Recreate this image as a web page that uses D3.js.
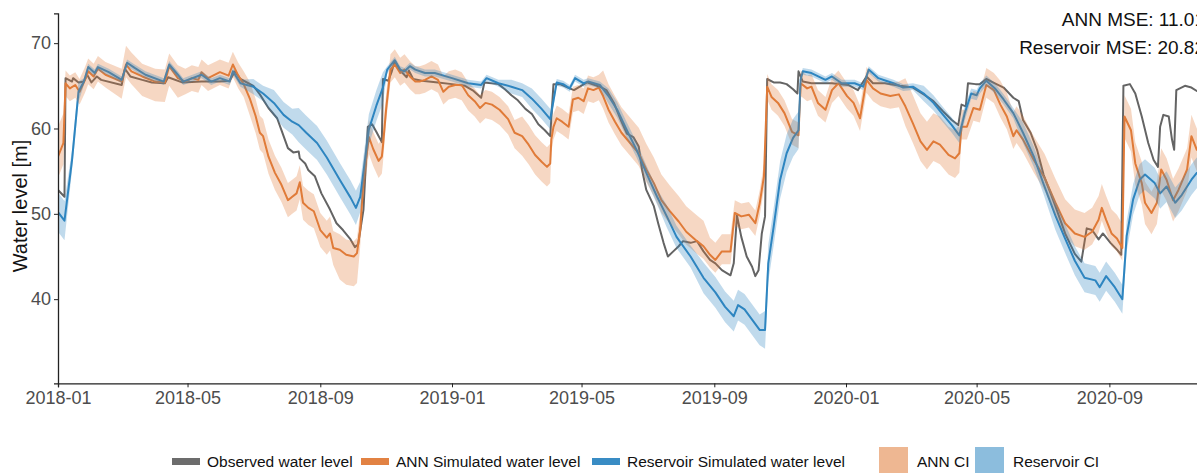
<!DOCTYPE html>
<html>
<head>
<meta charset="utf-8">
<script src="https://cdn.jsdelivr.net/npm/d3@7"></script>
<style>
  html, body { margin: 0; padding: 0; background: #fff; }
  svg { display: block; font-family: "Liberation Sans", Arial, sans-serif; }
</style>
</head>
<body>
<svg id="chart" width="1197" height="473"></svg>
<script>
// Observed water level [date, m]
const observed = [
  ["2018-01-01",52.8],["2018-01-07",52.0],["2018-01-08",65.9],["2018-01-14",65.5],["2018-01-15",65.9],
  ["2018-01-20",65.4],["2018-01-25",65.5],["2018-01-28",66.3],["2018-02-01",65.4],["2018-02-06",66.1],
  ["2018-02-10",65.7],["2018-03-01",65.1],["2018-03-04",67.0],["2018-03-09",66.1],["2018-03-20",65.7],
  ["2018-03-29",65.4],["2018-04-10",65.3],["2018-04-13",66.0],["2018-04-26",65.4],["2018-05-14",65.5],
  ["2018-05-31",65.5],["2018-06-09",65.6],["2018-06-14",66.7],["2018-06-19",65.8],["2018-07-01",65.0],
  ["2018-07-07",64.0],["2018-07-15",62.4],["2018-07-23",61.2],["2018-07-27",59.8],["2018-08-02",57.7],
  ["2018-08-07",57.2],["2018-08-12",57.3],["2018-08-13",56.5],["2018-08-18",55.9],["2018-08-21",55.1],
  ["2018-08-27",54.4],["2018-09-02",52.4],["2018-09-10",50.5],["2018-09-16",48.9],["2018-09-22",48.1],
  ["2018-09-29",47.0],["2018-10-03",46.1],["2018-10-06",46.4],["2018-10-11",50.5],["2018-10-15",60.2],
  ["2018-10-19",60.5],["2018-10-23",59.6],["2018-10-28",58.4],["2018-10-29",65.8],["2018-11-03",65.6],
  ["2018-11-06",66.6],["2018-11-09",67.9],["2018-11-14",66.8],["2018-11-20",66.0],["2018-11-22",66.8],
  ["2018-11-26",65.8],["2018-12-04",65.6],["2018-12-19",65.4],["2019-01-01",65.2],["2019-01-13",65.0],
  ["2019-01-21",64.4],["2019-01-28",63.6],["2019-01-31",65.4],["2019-02-13",65.2],["2019-02-19",64.6],
  ["2019-02-25",63.9],["2019-03-03",63.3],["2019-03-10",62.3],["2019-03-16",61.7],["2019-03-22",60.5],
  ["2019-03-28",59.8],["2019-04-02",59.1],["2019-04-05",65.2],["2019-04-11",65.2],["2019-04-20",64.7],
  ["2019-04-24",64.5],["2019-05-06",65.4],["2019-05-18",64.9],["2019-05-24",64.5],["2019-05-31",63.0],
  ["2019-06-07",60.8],["2019-06-12",59.4],["2019-06-18",59.0],["2019-06-23",57.9],["2019-06-26",55.2],
  ["2019-06-30",52.8],["2019-07-07",50.9],["2019-07-11",48.9],["2019-07-16",46.6],["2019-07-20",45.0],
  ["2019-07-25",45.6],["2019-07-30",46.2],["2019-08-03",46.8],["2019-08-10",46.6],["2019-08-16",46.8],
  ["2019-08-22",45.6],["2019-08-28",44.6],["2019-09-02",44.2],["2019-09-08",43.4],["2019-09-16",42.8],
  ["2019-09-19",44.2],["2019-09-22",49.8],["2019-09-26",47.3],["2019-10-01",45.0],["2019-10-06",43.8],
  ["2019-10-09",42.7],["2019-10-12",43.4],["2019-10-15",47.7],["2019-10-18",49.7],["2019-10-20",65.8],
  ["2019-10-26",65.4],["2019-11-01",65.4],["2019-11-07",65.2],["2019-11-13",64.6],["2019-11-17",64.1],
  ["2019-11-18",66.7],["2019-11-22",65.5],["2019-11-30",65.3],["2019-12-19",65.3],["2020-01-03",65.1],
  ["2020-01-12",64.5],["2020-01-20",66.1],["2020-01-26",65.3],["2020-02-06",65.3],["2020-02-20",65.0],
  ["2020-03-03",64.8],["2020-03-13",64.0],["2020-03-22",63.2],["2020-03-31",62.0],["2020-04-08",61.0],
  ["2020-04-14",60.4],["2020-04-17",62.8],["2020-04-21",62.6],["2020-04-23",65.3],["2020-04-30",65.2],
  ["2020-05-04",65.2],["2020-05-10",65.8],["2020-05-18",65.3],["2020-05-26",64.8],["2020-06-04",63.6],
  ["2020-06-09",63.2],["2020-06-13",61.0],["2020-06-20",59.5],["2020-06-26",57.5],["2020-07-02",54.6],
  ["2020-07-08",52.6],["2020-07-13",50.9],["2020-07-22",47.7],["2020-07-31",45.3],["2020-08-06",44.4],
  ["2020-08-11",48.3],["2020-08-16",48.1],["2020-08-22",47.0],["2020-08-26",47.7],["2020-09-02",46.6],
  ["2020-09-08",45.8],["2020-09-12",45.2],["2020-09-14",65.0],["2020-09-20",65.2],["2020-09-25",64.1],
  ["2020-10-01",61.4],["2020-10-07",58.3],["2020-10-12",56.3],["2020-10-16",55.5],["2020-10-18",60.2],
  ["2020-10-21",61.6],["2020-10-26",61.4],["2020-10-29",58.7],["2020-10-31",57.5],["2020-11-02",64.5],
  ["2020-11-10",65.0],["2020-11-16",64.8],["2020-11-21",64.4],["2020-11-28",64.2]
];

// ANN simulated water level [date, m]
const annSimulated = [
  ["2018-01-01",56.7],["2018-01-06",58.3],["2018-01-08",65.3],["2018-01-12",64.7],["2018-01-17",65.1],
  ["2018-01-21",64.3],["2018-01-26",65.7],["2018-01-29",66.7],["2018-02-03",66.1],["2018-02-07",67.0],
  ["2018-02-14",66.3],["2018-03-01",65.5],["2018-03-05",67.5],["2018-03-10",66.7],["2018-03-20",66.1],
  ["2018-04-01",65.5],["2018-04-10",65.4],["2018-04-14",67.3],["2018-04-22",65.9],["2018-04-29",65.5],
  ["2018-05-05",65.9],["2018-05-11",65.7],["2018-05-14",66.6],["2018-05-20",65.9],["2018-05-31",66.6],
  ["2018-06-08",66.2],["2018-06-12",67.5],["2018-06-17",66.2],["2018-06-22",65.2],["2018-06-28",63.4],
  ["2018-07-03",61.5],["2018-07-07",59.5],["2018-07-10",59.1],["2018-07-15",56.7],["2018-07-21",54.8],
  ["2018-07-27",53.4],["2018-08-02",51.6],["2018-08-06",52.0],["2018-08-10",52.4],["2018-08-13",53.7],
  ["2018-08-16",51.3],["2018-08-21",50.7],["2018-08-26",50.3],["2018-09-01",48.1],["2018-09-07",47.2],
  ["2018-09-10",47.7],["2018-09-13",46.0],["2018-09-19",45.8],["2018-09-25",45.2],["2018-10-02",45.0],
  ["2018-10-05",45.4],["2018-10-08",48.2],["2018-10-11",54.0],["2018-10-16",59.0],["2018-10-20",57.6],
  ["2018-10-25",56.2],["2018-10-28",56.7],["2018-10-29",57.9],["2018-11-01",62.3],["2018-11-05",66.9],
  ["2018-11-09",67.5],["2018-11-14",66.5],["2018-11-18",66.9],["2018-11-23",66.1],["2018-11-28",65.5],
  ["2018-12-02",65.5],["2018-12-07",65.7],["2018-12-13",66.1],["2018-12-19",65.7],["2018-12-24",64.3],
  ["2018-12-29",64.9],["2019-01-04",65.1],["2019-01-10",65.1],["2019-01-16",63.9],["2019-01-22",63.2],
  ["2019-01-27",62.4],["2019-02-01",63.0],["2019-02-07",62.8],["2019-02-14",62.2],["2019-02-22",61.1],
  ["2019-02-28",59.5],["2019-03-07",59.1],["2019-03-13",58.1],["2019-03-19",56.9],["2019-03-25",56.1],
  ["2019-03-30",55.5],["2019-04-02",55.9],["2019-04-03",58.7],["2019-04-05",60.2],["2019-04-08",61.2],
  ["2019-04-13",60.8],["2019-04-19",60.2],["2019-04-23",63.4],["2019-04-28",63.6],["2019-05-03",63.2],
  ["2019-05-07",64.7],["2019-05-12",64.5],["2019-05-17",64.8],["2019-05-21",63.8],["2019-05-26",62.2],
  ["2019-06-01",60.8],["2019-06-07",59.5],["2019-06-15",58.3],["2019-06-23",57.1],["2019-06-30",55.2],
  ["2019-07-07",53.6],["2019-07-14",51.6],["2019-07-22",50.3],["2019-07-30",49.1],["2019-08-06",47.9],
  ["2019-08-16",46.8],["2019-08-22",46.2],["2019-08-28",45.2],["2019-09-02",44.6],["2019-09-08",45.6],
  ["2019-09-16",45.6],["2019-09-20",50.1],["2019-09-26",49.7],["2019-10-03",49.9],["2019-10-09",48.9],
  ["2019-10-13",51.2],["2019-10-17",54.4],["2019-10-20",64.9],["2019-10-24",63.7],["2019-10-30",63.0],
  ["2019-11-05",61.8],["2019-11-12",59.6],["2019-11-18",59.2],["2019-11-20",65.3],["2019-11-26",64.7],
  ["2019-11-30",64.9],["2019-12-06",63.0],["2019-12-13",62.2],["2019-12-19",64.5],["2019-12-25",65.3],
  ["2020-01-02",63.8],["2020-01-08",63.0],["2020-01-14",61.2],["2020-01-20",65.7],["2020-01-26",64.7],
  ["2020-02-02",64.1],["2020-02-11",63.8],["2020-02-19",64.0],["2020-02-25",62.6],["2020-03-03",60.6],
  ["2020-03-10",58.5],["2020-03-16",57.5],["2020-03-22",58.5],["2020-03-28",58.1],["2020-04-05",56.9],
  ["2020-04-11",56.5],["2020-04-15",57.1],["2020-04-17",60.2],["2020-04-22",60.2],["2020-04-28",62.4],
  ["2020-05-04",62.2],["2020-05-10",65.1],["2020-05-17",64.5],["2020-05-23",62.8],["2020-05-29",61.4],
  ["2020-06-04",59.1],["2020-06-07",59.8],["2020-06-13",58.7],["2020-06-23",56.3],["2020-07-03",54.2],
  ["2020-07-13",51.3],["2020-07-22",48.9],["2020-07-31",47.7],["2020-08-09",47.3],["2020-08-16",47.9],
  ["2020-08-22",49.3],["2020-08-25",50.7],["2020-08-29",49.3],["2020-09-03",47.7],["2020-09-08",47.1],
  ["2020-09-13",46.0],["2020-09-15",61.4],["2020-09-21",59.8],["2020-09-25",55.9],["2020-10-01",53.6],
  ["2020-10-04",51.3],["2020-10-10",50.1],["2020-10-15",51.3],["2020-10-19",55.2],["2020-10-24",54.0],
  ["2020-10-30",51.6],["2020-11-04",52.8],["2020-11-12",55.2],["2020-11-16",59.1],["2020-11-21",57.5],
  ["2020-11-28",58.0]
];

// Reservoir model simulated water level [date, m]
const reservoirSimulated = [
  ["2018-01-01",50.2],["2018-01-07",49.2],["2018-01-14",56.3],["2018-01-20",64.3],["2018-01-25",65.5],
  ["2018-01-29",67.2],["2018-02-04",66.5],["2018-02-07",67.2],["2018-02-17",66.6],["2018-03-01",65.7],
  ["2018-03-06",67.7],["2018-03-13",67.1],["2018-03-23",66.3],["2018-04-09",65.5],["2018-04-14",67.5],
  ["2018-04-22",66.3],["2018-04-27",65.5],["2018-05-14",66.3],["2018-05-23",65.5],["2018-05-31",65.9],
  ["2018-06-09",65.5],["2018-06-12",66.7],["2018-06-19",65.3],["2018-07-01",64.9],["2018-07-10",64.1],
  ["2018-07-20",63.0],["2018-07-29",61.6],["2018-08-06",60.8],["2018-08-12",60.4],["2018-08-19",59.5],
  ["2018-08-29",58.3],["2018-09-07",56.6],["2018-09-19",54.0],["2018-09-29",51.9],["2018-10-04",50.7],
  ["2018-10-08",52.0],["2018-10-16",59.9],["2018-10-23",62.7],["2018-10-29",64.8],["2018-11-02",66.9],
  ["2018-11-09",68.0],["2018-11-14",66.9],["2018-11-18",66.7],["2018-11-23",67.3],["2018-11-28",66.9],
  ["2018-12-07",66.5],["2018-12-16",66.5],["2019-01-01",65.9],["2019-01-16",65.3],["2019-01-28",65.1],
  ["2019-02-02",65.9],["2019-02-13",65.3],["2019-02-25",64.9],["2019-03-07",64.5],["2019-03-16",63.5],
  ["2019-03-25",62.3],["2019-04-02",61.1],["2019-04-08",65.4],["2019-04-14",65.2],["2019-04-20",64.7],
  ["2019-04-25",65.9],["2019-05-03",65.3],["2019-05-07",65.5],["2019-05-18",65.1],["2019-05-26",63.8],
  ["2019-06-03",62.2],["2019-06-12",59.8],["2019-06-21",57.5],["2019-06-30",54.8],["2019-07-10",52.0],
  ["2019-07-19",49.7],["2019-07-28",47.3],["2019-08-10",45.0],["2019-08-22",42.5],["2019-09-02",40.8],
  ["2019-09-11",39.1],["2019-09-19",38.0],["2019-09-23",39.3],["2019-09-29",38.8],["2019-10-06",37.6],
  ["2019-10-13",36.4],["2019-10-18",36.4],["2019-10-21",44.2],["2019-10-26",48.5],["2019-11-01",54.0],
  ["2019-11-07",57.1],["2019-11-13",58.9],["2019-11-18",59.8],["2019-11-20",65.7],["2019-11-22",66.7],
  ["2019-11-30",66.5],["2019-12-13",65.7],["2019-12-19",66.1],["2019-12-28",65.3],["2020-01-09",65.3],
  ["2020-01-17",64.9],["2020-01-22",66.9],["2020-01-31",65.9],["2020-02-07",65.6],["2020-02-14",65.3],
  ["2020-02-23",64.8],["2020-03-03",64.9],["2020-03-13",64.1],["2020-03-22",63.0],["2020-03-31",61.6],
  ["2020-04-08",60.4],["2020-04-15",59.2],["2020-04-20",61.8],["2020-04-26",64.1],["2020-05-01",63.9],
  ["2020-05-04",64.7],["2020-05-10",65.6],["2020-05-18",64.7],["2020-05-26",63.4],["2020-06-04",61.8],
  ["2020-06-13",59.5],["2020-06-23",56.7],["2020-07-02",53.5],["2020-07-13",49.8],["2020-07-22",47.1],
  ["2020-07-31",44.5],["2020-08-09",42.5],["2020-08-19",42.2],["2020-08-23",41.4],["2020-08-29",42.7],
  ["2020-09-06",41.4],["2020-09-13",40.0],["2020-09-17",47.4],["2020-09-23",51.7],["2020-09-29",54.0],
  ["2020-10-04",54.6],["2020-10-13",53.6],["2020-10-18",52.4],["2020-10-24",53.2],["2020-11-01",51.3],
  ["2020-11-07",52.2],["2020-11-16",54.0],["2020-11-21",54.8],["2020-11-28",55.2]
];

// Confidence interval extents below/above each simulation, by period [from date, below, above]
const annCI = [
  ["2018-01-01",2.5,3.5],["2018-01-08",1.5,1.5],["2018-02-25",2.0,1.5],["2018-03-04",1.5,2.2],
  ["2018-03-15",2.3,1.5],["2018-04-25",1.5,1.5],["2018-06-25",2.0,2.0],["2018-09-15",3.5,1.8],
  ["2018-10-08",2.0,2.0],["2018-11-01",1.5,1.8],["2019-01-10",1.8,1.5],["2019-03-01",2.3,2.3],
  ["2019-04-03",1.5,1.5],["2019-05-20",1.5,3.0],["2019-08-25",1.5,2.0],["2019-09-20",1.5,1.5],
  ["2020-02-25",2.3,3.3],["2020-04-17",1.5,2.0],["2020-05-20",1.5,2.8],["2020-09-14",2.5,2.5]
];
const reservoirCI = [
  ["2018-01-01",2.3,2.3],["2018-01-14",1.2,1.2],["2018-01-25",0.4,0.4],["2018-06-25",0.9,0.9],
  ["2018-07-20",1.5,1.5],["2018-08-10",2.0,2.0],["2018-10-08",1.8,1.8],["2018-11-02",0.4,0.4],
  ["2019-02-20",0.8,0.8],["2019-03-15",1.2,1.2],["2019-04-08",0.4,0.4],["2019-05-25",0.9,0.9],
  ["2019-07-15",1.3,1.3],["2019-08-20",1.8,1.8],["2019-10-18",2.2,2.2],["2019-11-20",0.4,0.4],
  ["2020-03-10",0.9,0.9],["2020-04-23",0.6,0.6],["2020-06-10",1.2,1.2],["2020-07-10",1.7,1.7],
  ["2020-09-17",1.8,1.8]
];

const yTicks = [40, 50, 60, 70];
const mseLabels = ["ANN MSE: 11.01", "Reservoir MSE: 20.82"];

const colors = { observed: "#646464", ann: "#E07B39", res: "#2E86C1" };
const FONT = "Liberation Sans, Arial, sans-serif";

const parse = d3.timeParse("%Y-%m-%d");
const svg = d3.select("#chart");

const x = d3.scaleTime()
  .domain([parse("2018-01-01"), parse("2020-12-31")])
  .range([58, 1240]);
const y = d3.scaleLinear().domain([30.14, 73.5]).range([383.3, 13.3]);

svg.append("defs").append("clipPath").attr("id", "plot-clip")
  .append("rect").attr("x", 58).attr("y", 13).attr("width", 1200).attr("height", 370.3);

const toPts = arr => arr.map(d => ({ date: parse(d[0]), v: d[1] }));

function withBand(series, ci) {
  const spans = ci.map(c => ({ date: parse(c[0]), lo: c[1], hi: c[2] }));
  const bis = d3.bisector(s => s.date).right;
  return toPts(series).map(p => {
    const s = spans[Math.max(0, bis(spans, p.date) - 1)];
    return { date: p.date, v: p.v, lo: p.v - s.lo, hi: p.v + s.hi };
  });
}

const obsPts = toPts(observed);
const annPts = withBand(annSimulated, annCI);
const resPts = withBand(reservoirSimulated, reservoirCI);

const line = d3.line().x(d => x(d.date)).y(d => y(d.v));
const area = d3.area().x(d => x(d.date)).y0(d => y(d.lo)).y1(d => y(d.hi));

const plot = svg.append("g").attr("clip-path", "url(#plot-clip)");

plot.append("path").datum(obsPts).attr("d", line)
  .attr("fill", "none").attr("stroke", colors.observed).attr("stroke-width", 2).attr("stroke-linejoin", "round");
plot.append("path").datum(annPts).attr("d", line)
  .attr("fill", "none").attr("stroke", colors.ann).attr("stroke-width", 2).attr("stroke-linejoin", "round");
plot.append("path").datum(resPts).attr("d", line)
  .attr("fill", "none").attr("stroke", colors.res).attr("stroke-width", 2).attr("stroke-linejoin", "round");

// shaded confidence bands over the lines
plot.append("path").datum(annPts).attr("d", area)
  .attr("fill", colors.ann).attr("fill-opacity", 0.3);
plot.append("path").datum(resPts).attr("d", area)
  .attr("fill", colors.res).attr("fill-opacity", 0.3);

// axes
const xAxis = d3.axisBottom(x)
  .ticks(d3.timeMonth.every(4))
  .tickFormat(d3.timeFormat("%Y-%m"))
  .tickSizeOuter(0).tickSize(4).tickPadding(4);
const gx = svg.append("g").attr("transform", "translate(0,383.3)").call(xAxis);
gx.select(".domain").attr("stroke", "#222").attr("stroke-width", 1.3);
gx.selectAll(".tick line").attr("stroke", "#222");
gx.selectAll(".tick text").attr("font-size", 18).attr("fill", "#4d4d4d").attr("font-family", FONT);

const yAxis = d3.axisLeft(y).tickValues(yTicks).tickSizeOuter(0).tickSize(4).tickPadding(3);
const gy = svg.append("g").attr("transform", "translate(58,0)").call(yAxis);
gy.select(".domain").attr("stroke", "#222").attr("stroke-width", 1.3);
gy.selectAll(".tick line").attr("stroke", "#222");
gy.selectAll(".tick text").attr("font-size", 18).attr("fill", "#4d4d4d").attr("font-family", FONT);

svg.append("text")
  .attr("transform", "translate(27,206) rotate(-90)")
  .attr("text-anchor", "middle")
  .attr("font-size", 20).attr("fill", "#111")
  .text("Water level [m]");

// error summary, top right
svg.selectAll("text.mse").data(mseLabels).join("text")
  .attr("class", "mse")
  .attr("x", 1205).attr("y", (d, i) => 26 + i * 28)
  .attr("text-anchor", "end").attr("font-size", 19).attr("fill", "#111")
  .text(d => d);

// legend
const legendLines = [
  { label: "Observed water level", color: colors.observed, x: 172 },
  { label: "ANN Simulated water level", color: colors.ann, x: 361 },
  { label: "Reservoir Simulated water level", color: colors.res, x: 592 }
];
const legendBands = [
  { label: "ANN CI", color: colors.ann, x: 879 },
  { label: "Reservoir CI", color: colors.res, x: 975 }
];
const lg = svg.append("g");
legendLines.forEach(d => {
  lg.append("rect").attr("x", d.x).attr("y", 458).attr("width", 28).attr("height", 7)
    .attr("fill", d.color).attr("opacity", 0.95);
  lg.append("text").attr("x", d.x + 35).attr("y", 467).attr("font-size", 15.5).attr("fill", "#111").text(d.label);
});
legendBands.forEach(d => {
  lg.append("rect").attr("x", d.x).attr("y", 447).attr("width", 29).attr("height", 28)
    .attr("fill", d.color).attr("fill-opacity", 0.55);
  lg.append("text").attr("x", d.x + 38).attr("y", 467).attr("font-size", 15.5).attr("fill", "#111").text(d.label);
});
</script>
</body>
</html>
